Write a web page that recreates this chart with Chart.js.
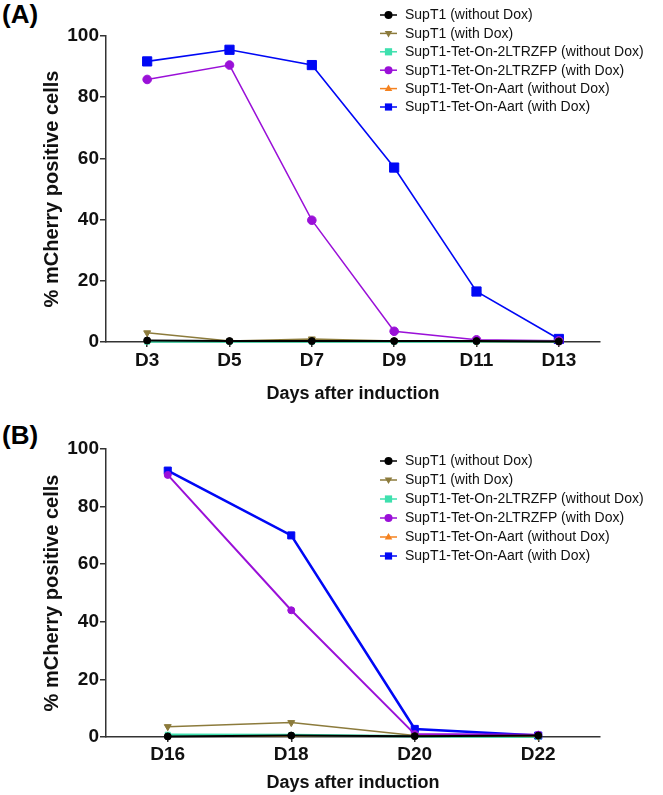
<!DOCTYPE html>
<html>
<head>
<meta charset="utf-8">
<script src="https://cdn.jsdelivr.net/npm/chart.js@4"></script>
<style>
  html, body { margin:0; padding:0; background:#fff; width:663px; height:795px; overflow:hidden; }
  .panel { position:absolute; left:0; width:663px; }
  .tag { position:absolute; left:2px; font:bold 26px "Liberation Sans", Arial, sans-serif; color:#000; line-height:1; }
</style>
</head>
<body>
<div class="tag" style="top:1px">(A)</div>
<div class="panel" style="top:0;height:410px"><canvas id="cA" width="663" height="410"></canvas></div>
<div class="tag" style="top:422px">(B)</div>
<div class="panel" style="top:400px;height:395px"><canvas id="cB" width="663" height="395"></canvas></div>
<script>
// ---------- data ----------
const seriesLabels = [
  'SupT1 (without Dox)',
  'SupT1 (with Dox)',
  'SupT1-Tet-On-2LTRZFP (without Dox)',
  'SupT1-Tet-On-2LTRZFP (with Dox)',
  'SupT1-Tet-On-Aart (without Dox)',
  'SupT1-Tet-On-Aart (with Dox)'
];
const yTicks = [0, 20, 40, 60, 80, 100];
const xTitle = 'Days after induction';
const yTitle = '% mCherry positive cells';

// Panel A
const daysA = ['D3', 'D5', 'D7', 'D9', 'D11', 'D13'];
const a_supt1_noDox   = [0.5, 0.3, 0.3, 0.3, 0.3, 0.2];
const a_supt1_dox     = [3.0, 0.3, 1.0, 0.3, 0.2, 0.2];
const a_ltr_noDox     = [0.1, 0.1, 0.1, 0.1, 0.1, 0.1];
const a_ltr_dox       = [85.8, 90.5, 39.8, 3.5, 0.7, 0.4];
const a_aart_noDox    = [0.3, 0.3, 0.5, 0.3, 0.3, 0.3];
const a_aart_dox      = [91.7, 95.5, 90.5, 57.0, 16.5, 1.0];

// Panel B
const daysB = ['D16', 'D18', 'D20', 'D22'];
const b_supt1_noDox   = [0.2, 0.5, 0.3, 0.5];
const b_supt1_dox     = [3.6, 5.0, 0.5, 0.2];
const b_ltr_noDox     = [0.8, 0.7, 0.3, 0.1];
const b_ltr_dox       = [91.0, 44.0, 1.0, 0.8];
const b_aart_noDox    = [0.3, 0.3, 0.3, 0.3];
const b_aart_dox      = [92.5, 70.0, 2.8, 0.5];

// ---------- styles ----------
const FONT = '"Liberation Sans", Arial, sans-serif';
const colors = ['#000000', '#8C7B3C', '#3EE0AE', '#9A10D8', '#F5821F', '#0008F5'];
const styles = ['circle', 'triangle', 'rect', 'circle', 'triangle', 'rect'];
const rotations = [0, 180, 0, 0, 0, 0];

function makeDatasets(vals, big) {
  const radii = big ? [3.5, 4, 3.5, 4.3, 3.5, 6.5] : [3.5, 4, 3.5, 3.5, 3.5, 5];
  const widths = big ? [2, 1.5, 2, 1.5, 1.5, 1.6] : [2, 1.5, 2.5, 2, 1.5, 2.6];
  return vals.map((v, i) => ({
    label: seriesLabels[i],
    data: v,
    borderColor: colors[i],
    backgroundColor: colors[i],
    pointBackgroundColor: colors[i],
    pointBorderColor: colors[i],
    pointStyle: styles[i],
    rotation: rotations[i],
    pointRadius: radii[i],
    pointBorderWidth: 1,
    borderWidth: widths[i],
    tension: 0,
    clip: false
  }));
}

function drawMarker(ctx, style, rot, x, y, r, color) {
  ctx.save();
  ctx.fillStyle = color;
  ctx.beginPath();
  if (style === 'circle') {
    ctx.arc(x, y, r, 0, Math.PI * 2);
  } else if (style === 'rect') {
    const s = r * 0.9;
    ctx.rect(x - s, y - s, 2 * s, 2 * s);
  } else {
    const dir = rot === 180 ? -1 : 1;
    ctx.moveTo(x, y - dir * r);
    ctx.lineTo(x - r * 0.95, y + dir * r * 0.6);
    ctx.lineTo(x + r * 0.95, y + dir * r * 0.6);
    ctx.closePath();
  }
  ctx.fill();
  ctx.restore();
}

function legendPlugin(x0, y0, dy) {
  return {
    id: 'customLegend',
    afterDraw(chart) {
      const ctx = chart.ctx;
      ctx.save();
      ctx.font = '14px ' + FONT;
      ctx.textBaseline = 'middle';
      chart.data.datasets.forEach((ds, i) => {
        const y = y0 + i * dy;
        ctx.strokeStyle = ds.borderColor;
        ctx.lineWidth = 1.5;
        ctx.beginPath();
        ctx.moveTo(x0, y);
        ctx.lineTo(x0 + 17, y);
        ctx.stroke();
        drawMarker(ctx, ds.pointStyle, ds.rotation, x0 + 8.5, y, 4, ds.borderColor);
        ctx.fillStyle = '#111';
        ctx.fillText(ds.label, x0 + 25, y + 0.5);
      });
      ctx.restore();
    }
  };
}

function makeOptions(topPad, xHeight, titlePadBottom, tickPadX) {
  return {
    responsive: false,
    animation: false,
    events: [],
    layout: { padding: { top: topPad, right: 63, left: 0, bottom: 0 } },
    plugins: { legend: { display: false }, tooltip: { enabled: false } },
    scales: {
      x: {
        type: 'category',
        offset: true,
        grid: { drawOnChartArea: false, drawTicks: true, tickLength: 5, color: '#333', lineWidth: 1.5 },
        border: { display: true, color: '#333', width: 1.5 },
        ticks: { color: '#111', padding: tickPadX, font: { family: FONT, size: 19, weight: 'bold' } },
        title: { display: true, text: xTitle, color: '#111', padding: { top: 0, bottom: titlePadBottom },
                 font: { family: FONT, size: 18, weight: 'bold' } },
        afterFit: s => { s.height = xHeight; }
      },
      y: {
        min: 0, max: 100,
        afterBuildTicks: s => { s.ticks = yTicks.map(v => ({ value: v })); },
        grid: { drawOnChartArea: false, drawTicks: true, tickLength: 6, color: '#333', lineWidth: 1.5 },
        border: { display: true, color: '#333', width: 1.5 },
        ticks: { color: '#111', padding: 1, font: { family: FONT, size: 19, weight: 'bold' } },
        title: { display: true, text: yTitle, color: '#111', padding: { top: 40, bottom: 0 },
                 font: { family: FONT, size: 20, weight: 'bold' } },
        afterFit: s => { s.width = 106; }
      }
    }
  };
}

new Chart(document.getElementById('cA'), {
  type: 'line',
  data: {
    labels: daysA,
    datasets: makeDatasets([a_supt1_noDox, a_supt1_dox, a_ltr_noDox, a_ltr_dox, a_aart_noDox, a_aart_dox], true)
  },
  options: makeOptions(36, 68, 5, 2),
  plugins: [legendPlugin(380, 15, 18.4)]
});

new Chart(document.getElementById('cB'), {
  type: 'line',
  data: {
    labels: daysB,
    datasets: makeDatasets([b_supt1_noDox, b_supt1_dox, b_ltr_noDox, b_ltr_dox, b_aart_noDox, b_aart_dox], false)
  },
  options: makeOptions(49, 58, 1, 1),
  plugins: [legendPlugin(380, 61, 19)]
});
</script>
</body>
</html>
